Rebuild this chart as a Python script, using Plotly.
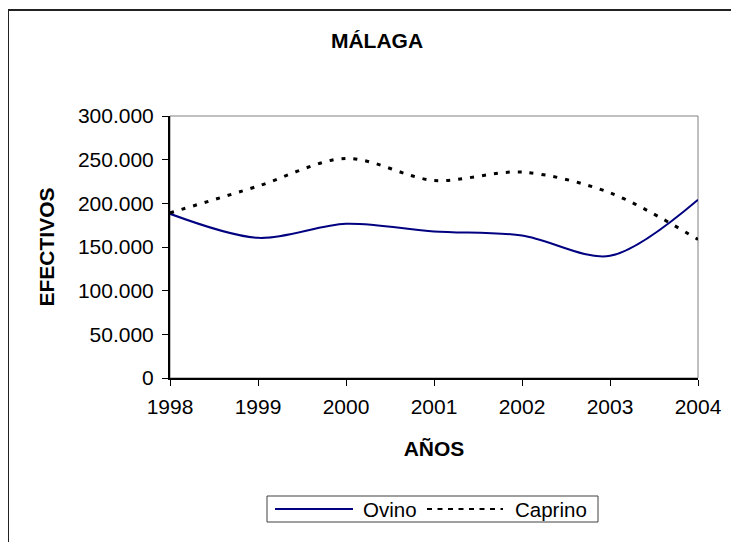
import plotly.graph_objects as go

years = [1998, 1999, 2000, 2001, 2002, 2003, 2004]
ovino = [188000, 160500, 176600, 167800, 163200, 139900, 204100]
caprino = [189000, 219700, 251500, 226200, 235800, 212100, 158600]

y_tickvals = [0, 50000, 100000, 150000, 200000, 250000, 300000]
y_ticktext = ["0", "50.000", "100.000", "150.000", "200.000", "250.000", "300.000"]
x_tickvals = years
x_ticktext = ["1998", "1999", "2000", "2001", "2002", "2003", "2004"]

FONT = "Liberation Sans, Arial, sans-serif"
OFF = 8  # page body margin
W, H = 739, 542
# plot area in screenshot pixels: x 170..698, y 116..378
L, T = 170 - OFF, 116 - OFF
R = W - (698 - OFF)
B = H - (378 - OFF)
pw, ph = W - L - R, H - T - B


def px(x):
    """screenshot x pixel -> paper"""
    return (x - OFF - L) / pw


def py(y):
    """screenshot y pixel -> paper"""
    return (H - B - (y - OFF)) / ph


fig = go.Figure()
fig.add_trace(go.Scatter(x=years, y=ovino, mode="lines", name="Ovino",
                         line=dict(color="#000080", width=2, shape="spline", smoothing=0.9),
                         showlegend=False))
fig.add_trace(go.Scatter(x=years, y=caprino, mode="lines", name="Caprino",
                         line=dict(color="#000000", width=3, dash="4px,8px", shape="spline", smoothing=0.9),
                         showlegend=False))

shapes = [
    dict(type="rect", xref="paper", yref="paper", x0=0, x1=1, y0=0, y1=1,
         line=dict(color="#808080", width=1), layer="below"),
    dict(type="line", xref="paper", yref="paper", x0=px(8), x1=px(8), y0=py(10), y1=py(560),
         line=dict(color="#222222", width=2)),
    dict(type="line", xref="paper", yref="paper", x0=px(8), x1=px(760), y0=py(10), y1=py(10),
         line=dict(color="#222222", width=2)),
    dict(type="rect", xref="paper", yref="paper", x0=px(267), x1=px(598), y0=py(522), y1=py(496),
         line=dict(color="#404040", width=1), fillcolor="white"),
    dict(type="line", xref="paper", yref="paper", x0=px(275), x1=px(353), y0=py(509), y1=py(509),
         line=dict(color="#000080", width=2)),
    dict(type="line", xref="paper", yref="paper", x0=px(427), x1=px(503), y0=py(509), y1=py(509),
         line=dict(color="#000000", width=2, dash="5px,5.5px")),
]

annotations = [
    dict(text="Ovino", xref="paper", yref="paper", x=px(361), y=py(509), xanchor="left",
         yanchor="middle", showarrow=False, font=dict(family=FONT, size=20.5, color="black")),
    dict(text="Caprino", xref="paper", yref="paper", x=px(513), y=py(509), xanchor="left",
         yanchor="middle", showarrow=False, font=dict(family=FONT, size=20.5, color="black")),
]

fig.update_layout(
    width=W, height=H,
    margin=dict(l=L, r=R, t=T, b=B, autoexpand=False),
    paper_bgcolor="white", plot_bgcolor="white",
    font=dict(family=FONT, size=21, color="black"),
    title=dict(text="<b>MÁLAGA</b>", x=(377 - OFF) / W, y=1 - (41 - OFF) / H,
               xref="container", yref="container",
               xanchor="center", yanchor="middle", font=dict(family=FONT, size=21, color="black")),
    shapes=shapes,
    annotations=annotations,
    showlegend=False,
)
fig.update_xaxes(range=[1998, 2004], tickvals=x_tickvals, ticktext=x_ticktext,
                 showgrid=False, zeroline=False, showline=True, linecolor="black", linewidth=2,
                 ticks="outside", ticklen=6, tickwidth=1, tickcolor="black", ticklabelstandoff=3,
                 title=dict(text="<b>AÑOS</b>", standoff=24, font=dict(family=FONT, size=21)))
fig.update_yaxes(range=[0, 300000], tickvals=y_tickvals, ticktext=y_ticktext,
                 showgrid=False, zeroline=False, showline=True, linecolor="black", linewidth=2,
                 ticks="outside", ticklen=6, tickwidth=1, tickcolor="black", ticklabelstandoff=4,
                 title=dict(text="<b>EFECTIVOS</b>", standoff=18, font=dict(family=FONT, size=21)))

fig.write_html("out.html")
